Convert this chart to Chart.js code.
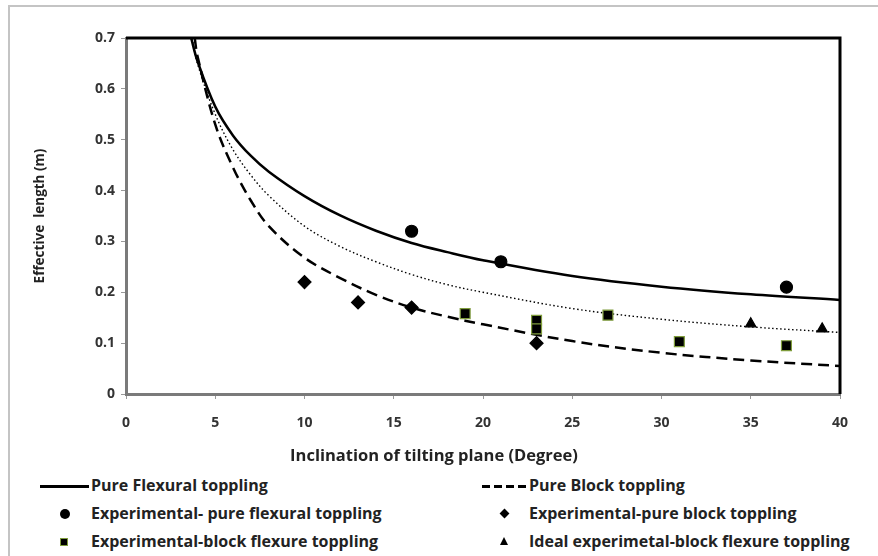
<!DOCTYPE html>
<html>
<head>
<meta charset="utf-8">
<script src="https://cdn.jsdelivr.net/npm/chart.js@4.4.1/dist/chart.umd.min.js"></script>
<style>
  body { margin: 0; background: #fff; font-family: "Open Sans", sans-serif; }
  #wrap { position: relative; width: 878px; height: 556px; overflow: hidden; }
  #frame { position: absolute; left: 8px; top: 5px; width: 900px; height: 600px;
           border-left: 2px solid #c4c4c4; border-top: 2px solid #c4c4c4; }
  #chart { position: absolute; left: 0; top: 0; }
  .leg { position: absolute; font-size: 16px; font-weight: bold; color: #222; line-height: 20px; white-space: nowrap; }
  #xtitle { position: absolute; left: 234px; width: 400px; top: 444px; text-align: center;
            font-size: 16.5px; font-weight: bold; color: #222; line-height: 22px; white-space: nowrap; }
  .mk { position: absolute; }
</style>
</head>
<body>
<div id="wrap">
  <div id="frame"></div>
  <canvas id="chart" width="878" height="470"></canvas>
  <div id="xtitle"></div>
  <div id="legend"></div>
</div>
<script>
// theoretical curves
const flexuralX = [3.65, 4, 5, 6, 7, 8, 10, 12, 14, 16, 18, 20, 25, 30, 35, 40];
const flexuralY = [0.70, 0.655, 0.565, 0.508, 0.468, 0.437, 0.389, 0.351, 0.321, 0.297, 0.279, 0.263, 0.232, 0.211, 0.196, 0.185];

const idealX = [3.7, 4, 5, 6, 7, 8, 10, 12, 14, 16, 18, 20, 25, 30, 35, 40];
const idealY = [0.70, 0.65, 0.55, 0.48, 0.43, 0.39, 0.33, 0.29, 0.26, 0.235, 0.215, 0.2, 0.168, 0.147, 0.132, 0.121];

const blockX = [3.85, 4, 5, 6, 7, 8, 10, 12, 14, 16, 18, 20, 25, 30, 35, 40];
const blockY = [0.70, 0.665, 0.53, 0.445, 0.38, 0.33, 0.268, 0.228, 0.195, 0.17, 0.152, 0.137, 0.104, 0.081, 0.066, 0.055];

// experiments
const flexExpX = [16, 21, 37];
const flexExpY = [0.32, 0.26, 0.21];
const blockExpX = [10, 13, 16, 23];
const blockExpY = [0.22, 0.18, 0.17, 0.10];
const mixedExpX = [19, 23, 23, 27, 31, 37];
const mixedExpY = [0.158, 0.145, 0.128, 0.155, 0.103, 0.095];
const idealExpX = [35, 39];
const idealExpY = [0.138, 0.128];

const xTicks = [0, 5, 10, 15, 20, 25, 30, 35, 40];
const yTicks = [0, 0.1, 0.2, 0.3, 0.4, 0.5, 0.6, 0.7];

const xTitle = 'Inclination of tilting plane (Degree)';
const yTitle = 'Effective  length (m)';
const legendLabels = [
  'Pure Flexural toppling', 'Pure Block toppling',
  'Experimental- pure flexural toppling', 'Experimental-pure block toppling',
  'Experimental-block flexure toppling', 'Ideal experimetal-block flexure toppling'
];

function pts(xs, ys) {
  return xs.map((x, i) => ({ x: x, y: ys[i] }));
}

function curve(xs, ys, dash, width) {
  return {
    data: pts(xs, ys), showLine: true, pointRadius: 0,
    borderColor: '#000', borderWidth: width, borderDash: dash,
    tension: 0.35, order: 5
  };
}

function marks(xs, ys, style, r, fill, border) {
  return {
    data: pts(xs, ys), showLine: false, pointStyle: style, pointRadius: r,
    backgroundColor: fill, borderColor: border, pointBorderWidth: 1.2, order: 1
  };
}

const framePlugin = {
  id: 'frame',
  afterDatasetsDraw(chart) {
    const a = chart.chartArea, c = chart.ctx;
    c.save();
    c.strokeStyle = '#000';
    c.lineWidth = 3;
    c.beginPath();
    c.moveTo(a.left, a.top);
    c.lineTo(a.right, a.top);
    c.lineTo(a.right, a.bottom);
    c.stroke();
    c.restore();
  }
};

const tickFont = { family: 'Open Sans', size: 14, weight: 'bold' };

new Chart(document.getElementById('chart'), {
  type: 'scatter',
  data: {
    datasets: [
      curve(flexuralX, flexuralY, [], 2.5),
      curve(blockX, blockY, [11, 6], 2.5),
      curve(idealX, idealY, [1.5, 2.5], 1.4),
      marks(flexExpX, flexExpY, 'circle', 6, '#000', '#000'),
      marks(blockExpX, blockExpY, 'rectRot', 6.5, '#000', '#000'),
      marks(mixedExpX, mixedExpY, 'rect', 7, '#000', '#7f9c3c'),
      marks(idealExpX, idealExpY, 'triangle', 6, '#000', '#000')
    ]
  },
  options: {
    responsive: false,
    animation: false,
    layout: { padding: { left: 0, top: 38, right: 38, bottom: 0 } },
    plugins: { legend: { display: false }, tooltip: { enabled: false } },
    scales: {
      x: {
        min: 0, max: 40,
        afterBuildTicks: s => { s.ticks = xTicks.map(v => ({ value: v })); },
        afterFit: s => { s.height = 76; },
        ticks: { font: tickFont, color: '#333', padding: 16 },
        grid: { display: true, drawOnChartArea: false, drawTicks: true, tickLength: 5, color: '#999' },
        border: { display: true, color: '#7a7a7a', width: 3 }
      },
      y: {
        min: 0, max: 0.7,
        afterBuildTicks: s => { s.ticks = yTicks.map(v => ({ value: v })); },
        afterFit: s => { s.width = 126; },
        ticks: { font: tickFont, color: '#333', padding: 6, callback: v => String(Math.round(v * 10) / 10) },
        grid: { display: true, drawOnChartArea: false, drawTicks: true, tickLength: 5, color: '#999' },
        border: { display: true, color: '#7a7a7a', width: 3 },
        title: { display: true, text: yTitle,
                 font: { family: 'Open Sans', size: 13.5, weight: 'bold' }, color: '#222',
                 padding: { top: 32, bottom: 0 } }
      }
    }
  },
  plugins: [framePlugin]
});

document.getElementById('xtitle').textContent = xTitle;

// legend, two columns
const legend = document.getElementById('legend');
const rowsY = [486, 514, 542];
const colText = [91, 529];
legendLabels.forEach((txt, i) => {
  const row = Math.floor(i / 2), col = i % 2;
  const t = document.createElement('div');
  t.className = 'leg';
  t.textContent = txt;
  t.style.left = colText[col] + 'px';
  t.style.top = (rowsY[row] - 11) + 'px';
  legend.appendChild(t);
});

function mark(css) {
  const m = document.createElement('div');
  m.className = 'mk';
  Object.assign(m.style, css);
  legend.appendChild(m);
}
// line samples
mark({ left: '40px', top: '485px', width: '49px', height: '2.5px', background: '#000' });
mark({ left: '482px', top: '485px', width: '46px', height: '2.5px',
       background: 'repeating-linear-gradient(90deg, #000 0 8px, transparent 8px 12px)' });
// point samples
mark({ left: '60px', top: '509px', width: '10px', height: '10px', borderRadius: '50%', background: '#000' });
mark({ left: '501px', top: '510px', width: '7px', height: '7px', background: '#000', transform: 'rotate(45deg)' });
mark({ left: '60px', top: '538px', width: '6px', height: '6px', background: '#000', border: '1px solid #7f9c3c' });
mark({ left: '500px', top: '537px', width: '0', height: '0', borderLeft: '4.5px solid transparent',
       borderRight: '4.5px solid transparent', borderBottom: '8px solid #000' });
</script>
</body>
</html>
